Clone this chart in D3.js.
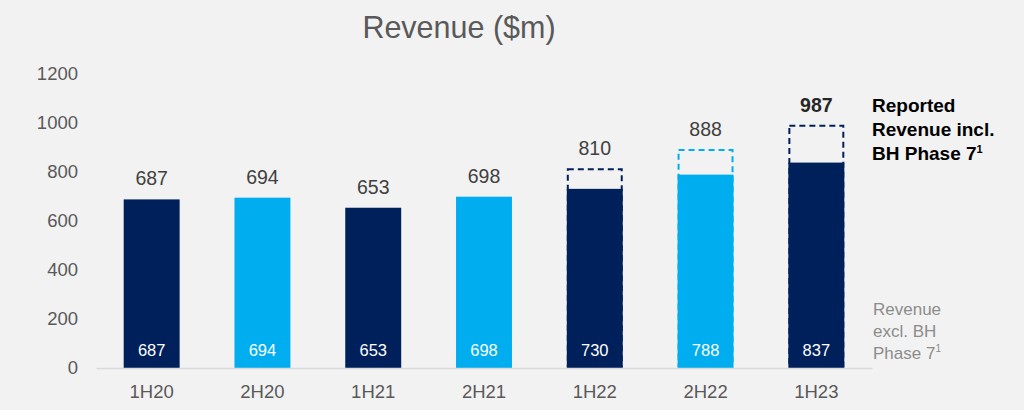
<!DOCTYPE html>
<html>
<head>
<meta charset="utf-8">
<script src="https://cdn.jsdelivr.net/npm/d3@7"></script>
<style>
  body { margin: 0; background: #f2f2f2; }
  svg { display: block; font-family: "Liberation Sans", Arial, sans-serif; }
</style>
</head>
<body>
<div id="chart"></div>
<script>
// chart data
var periods = ["1H20", "2H20", "1H21", "2H21", "1H22", "2H22", "1H23"];
var revenueExcl = [687, 694, 653, 698, 730, 788, 837];
var revenueReported = [687, 694, 653, 698, 810, 888, 987];
var yTicks = [0, 200, 400, 600, 800, 1000, 1200];

var W = 1024, H = 410;
var svg = d3.select("#chart").append("svg")
    .attr("width", W)
    .attr("height", H);

svg.append("rect").attr("width", W).attr("height", H).attr("fill", "#f2f2f2");

var data = periods.map(function(p, i) {
  return {period: p, excl: revenueExcl[i], total: revenueReported[i]};
});

var x = d3.scaleBand()
    .domain(periods)
    .range([96, 872])
    .paddingInner(0.495)
    .paddingOuter(0.25);

var y = d3.scaleLinear()
    .domain([0, 1200])
    .range([368, 73.5]);

// colour by half-year
var color = d3.scaleOrdinal()
    .domain(["1H", "2H"])
    .range(["#00205b", "#00aeef"]);
function half(p) { return p.slice(0, 2); }

// title
svg.append("text")
    .attr("x", 459)
    .attr("y", 38)
    .attr("text-anchor", "middle")
    .attr("font-size", 30.5)
    .attr("fill", "#595959")
    .text("Revenue ($m)");

// y axis labels (no line)
var yAxis = svg.append("g")
    .attr("transform", "translate(78,0)")
    .call(d3.axisLeft(y).tickValues(yTicks).tickFormat(d3.format("d")).tickSize(0).tickPadding(0));
yAxis.select(".domain").remove();
yAxis.selectAll("text")
    .attr("font-size", 18.5)
    .attr("fill", "#595959")
    .attr("font-family", "Liberation Sans, Arial, sans-serif");

// dashed outlines for reported revenue (bottom part hidden behind the bar)
svg.append("g").selectAll("rect")
    .data(data.filter(function(d) { return d.total > d.excl; }))
    .enter().append("rect")
      .attr("x", function(d) { return x(d.period) + 1; })
      .attr("y", function(d) { return y(d.total); })
      .attr("width", x.bandwidth() - 2)
      .attr("height", function(d) { return y(0) - y(d.total) - 2; })
      .attr("fill", "none")
      .attr("stroke", function(d) { return color(half(d.period)); })
      .attr("stroke-width", 2)
      .attr("stroke-dasharray", "6,4");

// bars
svg.append("g").selectAll("rect")
    .data(data)
    .enter().append("rect")
      .attr("x", function(d) { return x(d.period); })
      .attr("y", function(d) { return y(d.excl); })
      .attr("width", x.bandwidth())
      .attr("height", function(d) { return y(0) - y(d.excl); })
      .attr("fill", function(d) { return color(half(d.period)); });

// x axis
var xAxis = svg.append("g")
    .attr("transform", "translate(0," + y(0) + ")")
    .call(d3.axisBottom(x).tickSize(0).tickPadding(17).tickSizeOuter(0));
xAxis.select(".domain").attr("stroke", "#d9d9d9").attr("stroke-width", 1.5);
xAxis.selectAll("text")
    .attr("font-size", 18.5)
    .attr("fill", "#595959")
    .attr("font-family", "Liberation Sans, Arial, sans-serif");

// top labels
svg.append("g").selectAll("text")
    .data(data)
    .enter().append("text")
      .attr("x", function(d) { return x(d.period) + x.bandwidth() / 2; })
      .attr("y", function(d) { return y(d.total) - 14; })
      .attr("text-anchor", "middle")
      .attr("font-size", 19.5)
      .attr("font-weight", function(d, i) { return i === data.length - 1 ? "bold" : "normal"; })
      .attr("fill", function(d, i) { return i === data.length - 1 ? "#262626" : "#404040"; })
      .text(function(d) { return d.total; });

// inside labels
svg.append("g").selectAll("text")
    .data(data)
    .enter().append("text")
      .attr("x", function(d) { return x(d.period) + x.bandwidth() / 2; })
      .attr("y", y(0) - 12)
      .attr("text-anchor", "middle")
      .attr("font-size", 16.5)
      .attr("fill", "#ffffff")
      .text(function(d) { return d.excl; });

// legend notes
var note1 = svg.append("text")
    .attr("x", 872)
    .attr("font-size", 19)
    .attr("font-weight", "bold")
    .attr("fill", "#000000");
["Reported", "Revenue incl.", "BH Phase 7"].forEach(function(t, i) {
  note1.append("tspan").attr("x", 872).attr("y", 112 + i * 24).text(t);
  if (i === 2) note1.append("tspan").attr("font-size", 11).attr("dy", -7).text("1");
});

var note2 = svg.append("text")
    .attr("x", 873)
    .attr("font-size", 17)
    .attr("fill", "#8c8c8c");
["Revenue", "excl. BH", "Phase 7"].forEach(function(t, i) {
  note2.append("tspan").attr("x", 873).attr("y", 315 + i * 22).text(t);
  if (i === 2) note2.append("tspan").attr("font-size", 10).attr("dy", -7).text("1");
});
</script>
</body>
</html>
